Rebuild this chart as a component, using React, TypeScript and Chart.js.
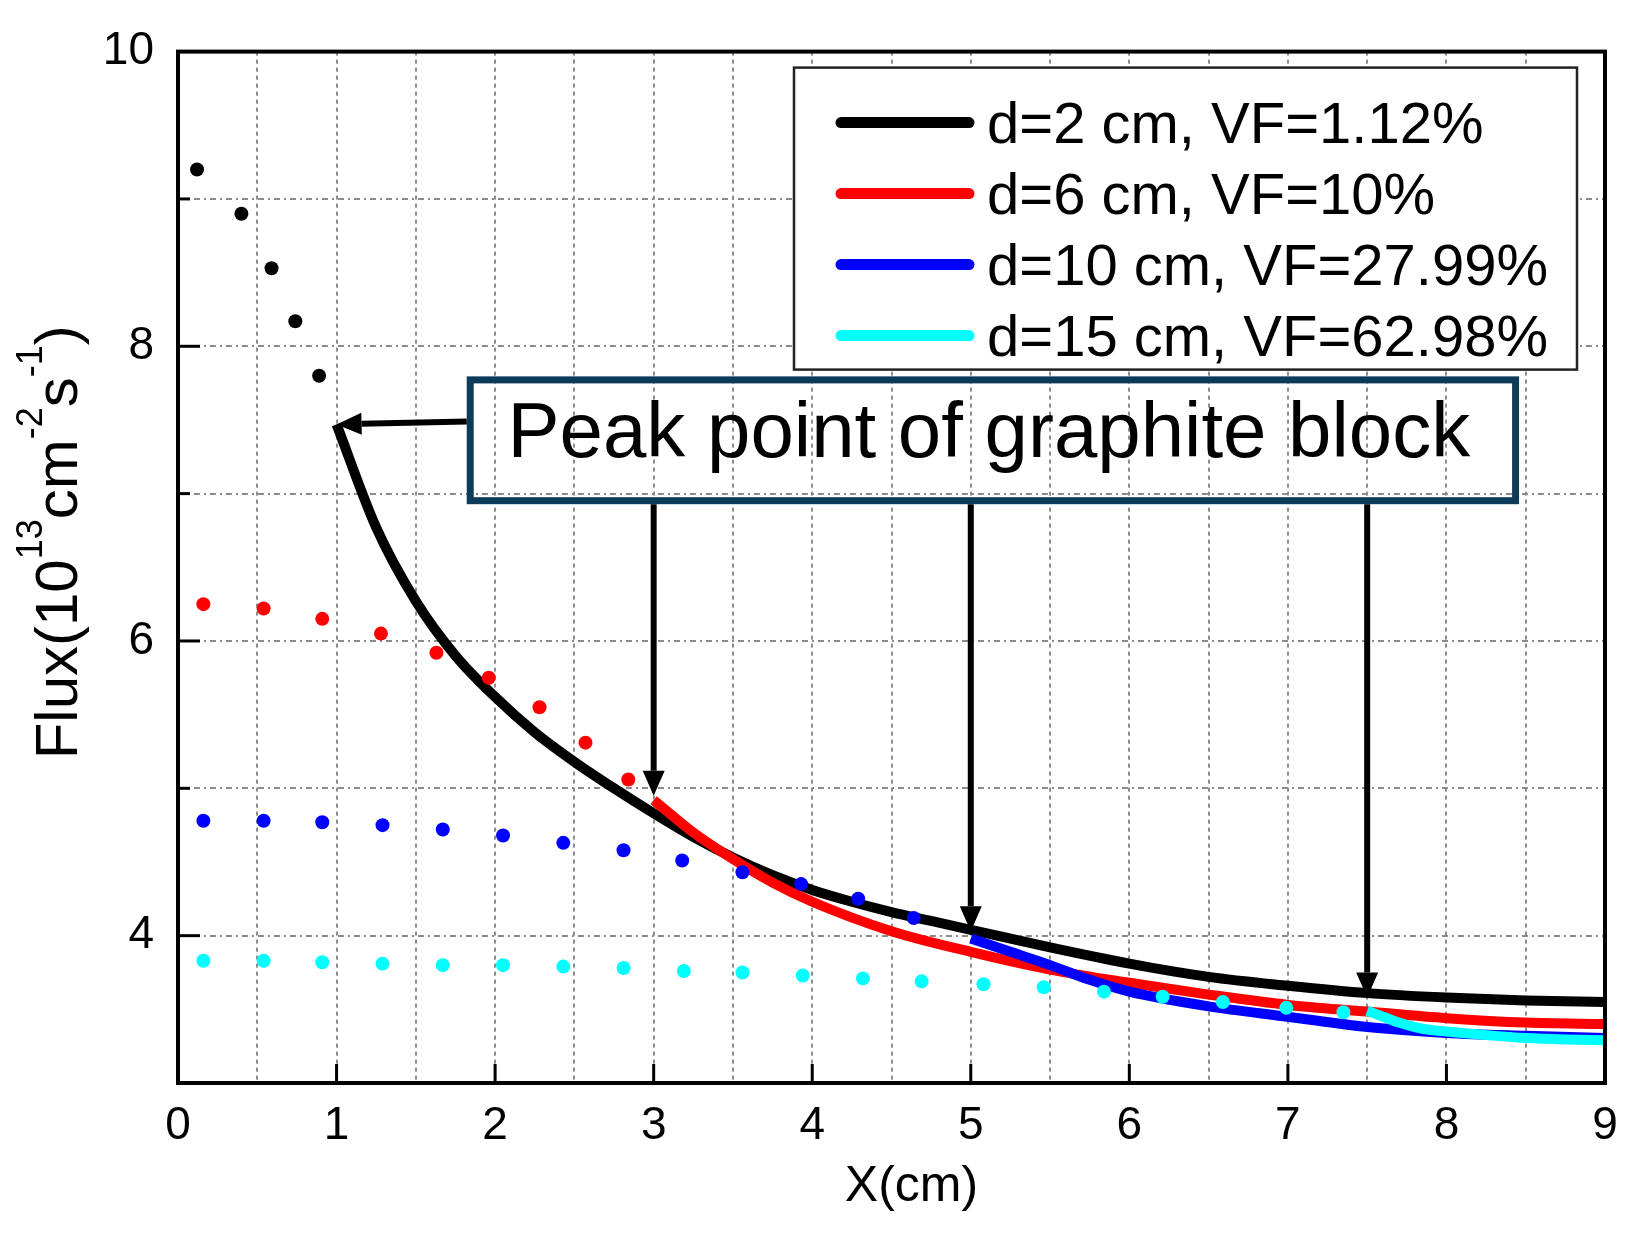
import React, { useEffect, useRef } from "react";
import { Chart, registerables } from "chart.js";

Chart.register(...registerables);

const FONT = '"Liberation Sans", Arial, Helvetica, sans-serif';

// ---- axes ----
const xMin = 0;
const xMax = 9;
const yMin = 3;
const yMax = 10;
const xTickValues = [0, 1, 2, 3, 4, 5, 6, 7, 8, 9];
const xInnerTicks = [1, 2, 3, 4, 5, 6, 7, 8];
const yTickValues = [4, 6, 8, 10];
const yMajorInner = [4, 6, 8];
const yMinorInner = [5, 7, 9];
const xGridValues = [0.5, 1, 1.5, 2, 2.5, 3, 3.5, 4, 4.5, 5, 5.5, 6, 6.5, 7, 7.5, 8, 8.5];
const yGridValues = [4, 5, 6, 7, 8, 9];

const xTitle = "X(cm)";
const yTitleParts: [string, boolean][] = [
  ["Flux(10", false],
  ["13", true],
  ["cm", false],
  ["-2", true],
  ["s", false],
  ["-1", true],
  [")", false],
];

// ---- series ----
const seriesLabels = ["d=2 cm, VF=1.12%", "d=6 cm, VF=10%", "d=10 cm, VF=27.99%", "d=15 cm, VF=62.98%"];
const seriesColors = ["#000000", "#ff0000", "#0000ff", "#00ffff"];

// d=2 cm
const blackDotX = [0.12, 0.4, 0.59, 0.74, 0.89];
const blackDotY = [9.2, 8.9, 8.53, 8.17, 7.8];
const blackLineX = [1.0, 1.25, 1.5, 1.75, 2.0, 2.25, 2.5, 2.75, 3.0, 3.25, 3.5, 3.75, 4.0, 4.25, 4.5, 4.75, 5.0, 5.5, 6.0, 6.5, 7.0, 7.5, 8.0, 8.5, 9.0];
const blackLineY = [7.47, 6.77, 6.27, 5.9, 5.62, 5.38, 5.18, 5.0, 4.83, 4.67, 4.53, 4.41, 4.31, 4.23, 4.16, 4.1, 4.04, 3.92, 3.81, 3.72, 3.66, 3.61, 3.58, 3.56, 3.55];

// d=6 cm
const redDotX = [0.16, 0.54, 0.91, 1.28, 1.63, 1.96, 2.28, 2.57, 2.84];
const redDotY = [6.25, 6.22, 6.15, 6.05, 5.92, 5.75, 5.55, 5.31, 5.06];
const redLineX = [3.0, 3.25, 3.5, 3.75, 4.0, 4.5, 5.0, 5.5, 6.0, 6.5, 7.0, 7.5, 8.0, 8.5, 9.0];
const redLineY = [4.92, 4.7, 4.52, 4.36, 4.23, 4.03, 3.89, 3.77, 3.68, 3.6, 3.53, 3.485, 3.44, 3.41, 3.4];

// d=10 cm
const blueDotX = [0.16, 0.54, 0.91, 1.29, 1.67, 2.05, 2.43, 2.81, 3.18, 3.56, 3.93, 4.29, 4.64];
const blueDotY = [4.78, 4.78, 4.77, 4.75, 4.72, 4.68, 4.63, 4.58, 4.51, 4.43, 4.35, 4.25, 4.12];
const blueLineX = [5.0, 5.25, 5.5, 5.75, 6.0, 6.5, 7.0, 7.5, 8.0, 8.5, 9.0];
const blueLineY = [3.98, 3.89, 3.8, 3.7, 3.62, 3.52, 3.45, 3.38, 3.34, 3.32, 3.305];

// d=15 cm
const cyanDotX = [0.16, 0.54, 0.91, 1.29, 1.67, 2.05, 2.43, 2.81, 3.19, 3.56, 3.94, 4.32, 4.69, 5.08, 5.46, 5.84, 6.21, 6.59, 6.99, 7.35];
const cyanDotY = [3.83, 3.83, 3.82, 3.81, 3.8, 3.8, 3.79, 3.78, 3.76, 3.75, 3.73, 3.71, 3.69, 3.67, 3.65, 3.62, 3.585, 3.55, 3.51, 3.48];
const cyanLineX = [7.5, 7.6, 7.7, 7.8, 7.9, 8.0, 8.25, 8.5, 8.75, 9.0];
const cyanLineY = [3.49, 3.45, 3.41, 3.38, 3.36, 3.35, 3.325, 3.305, 3.295, 3.29];

const dotXs = [blackDotX, redDotX, blueDotX, cyanDotX];
const dotYs = [blackDotY, redDotY, blueDotY, cyanDotY];
const lineXs = [blackLineX, redLineX, blueLineX, cyanLineX];
const lineYs = [blackLineY, redLineY, blueLineY, cyanLineY];

// ---- annotation (data coordinates) ----
const peakLabel = "Peak point of graphite block";
const peakX = [1, 3, 5, 7.5];
const peakY = [7.47, 4.95, 4.03, 3.58];
const boxXRange = [1.843, 8.436];
const boxYRange = [6.952, 7.772];

function drawArrow(ctx: CanvasRenderingContext2D, x0: number, y0: number, x1: number, y1: number) {
  const L = 25;
  const W = 11;
  const dx = x1 - x0;
  const dy = y1 - y0;
  const len = Math.hypot(dx, dy);
  const ux = dx / len;
  const uy = dy / len;
  const bx = x1 - ux * L;
  const by = y1 - uy * L;
  ctx.beginPath();
  ctx.moveTo(x0, y0);
  ctx.lineTo(bx, by);
  ctx.stroke();
  ctx.beginPath();
  ctx.moveTo(x1, y1);
  ctx.lineTo(bx - uy * W, by + ux * W);
  ctx.lineTo(bx + uy * W, by - ux * W);
  ctx.closePath();
  ctx.fill();
}

const decorPlugin = {
  id: "decor",
  beforeDatasetsDraw(chart: any) {
    const { ctx, chartArea: a, scales } = chart;
    const x = scales.x;
    const y = scales.y;
    ctx.save();
    ctx.strokeStyle = "#8c8c8c";
    ctx.lineWidth = 2;
    ctx.setLineDash([4, 4]);
    xGridValues.forEach((v) => {
      const px = Math.round(x.getPixelForValue(v));
      ctx.beginPath();
      ctx.moveTo(px, a.top);
      ctx.lineTo(px, a.bottom);
      ctx.stroke();
    });
    ctx.setLineDash([6, 4, 2, 4]);
    yGridValues.forEach((v) => {
      const py = Math.round(y.getPixelForValue(v));
      ctx.beginPath();
      ctx.moveTo(a.left, py);
      ctx.lineTo(a.right, py);
      ctx.stroke();
    });
    ctx.restore();
  },
  afterDatasetsDraw(chart: any) {
    const { ctx, chartArea: a, scales } = chart;
    const x = scales.x;
    const y = scales.y;
    ctx.save();

    // annotation box
    const bl = x.getPixelForValue(boxXRange[0]);
    const br = x.getPixelForValue(boxXRange[1]);
    const bt = y.getPixelForValue(boxYRange[1]);
    const bb = y.getPixelForValue(boxYRange[0]);
    ctx.strokeStyle = "#0c3c58";
    ctx.lineWidth = 7;
    ctx.lineJoin = "miter";
    ctx.strokeRect(bl, bt, br - bl, bb - bt);
    ctx.fillStyle = "#000";
    ctx.font = `78px ${FONT}`;
    ctx.textAlign = "center";
    ctx.textBaseline = "alphabetic";
    ctx.fillText(peakLabel, (bl + br) / 2 - 4, bt + 77);

    // arrows
    ctx.strokeStyle = "#000";
    ctx.fillStyle = "#000";
    ctx.lineWidth = 6;
    ctx.lineCap = "butt";
    peakX.forEach((px, i) => {
      const tx = x.getPixelForValue(px);
      const ty = y.getPixelForValue(peakY[i]);
      if (i === 0) {
        drawArrow(ctx, bl - 3.5, ty - 3, tx, ty);
      } else {
        drawArrow(ctx, tx, bb + 3.5, tx, ty);
      }
    });

    // legend
    const lw = 783;
    const lh = 302;
    const lx = a.right - 811;
    const ly = a.top + 16;
    ctx.fillStyle = "#fff";
    ctx.fillRect(lx, ly, lw, lh);
    ctx.strokeStyle = "#222";
    ctx.lineWidth = 2.5;
    ctx.strokeRect(lx, ly, lw, lh);
    ctx.font = `58px ${FONT}`;
    ctx.textAlign = "left";
    ctx.textBaseline = "alphabetic";
    seriesLabels.forEach((lab, i) => {
      const ry = ly + 55 + i * 71;
      ctx.strokeStyle = seriesColors[i];
      ctx.lineWidth = 11;
      ctx.lineCap = "round";
      ctx.beginPath();
      ctx.moveTo(lx + 47, ry);
      ctx.lineTo(lx + 175, ry);
      ctx.stroke();
      ctx.fillStyle = "#000";
      ctx.fillText(lab, lx + 193, ry + 20);
    });

    // frame
    ctx.lineCap = "butt";
    ctx.strokeStyle = "#000";
    ctx.lineWidth = 4;
    ctx.strokeRect(a.left, a.top, a.right - a.left, a.bottom - a.top);

    // inward ticks
    ctx.lineWidth = 3;
    xInnerTicks.forEach((v) => {
      const px = x.getPixelForValue(v);
      ctx.beginPath();
      ctx.moveTo(px, a.bottom);
      ctx.lineTo(px, a.bottom - 19);
      ctx.stroke();
    });
    yMajorInner.forEach((v) => {
      const py = y.getPixelForValue(v);
      ctx.beginPath();
      ctx.moveTo(a.left, py);
      ctx.lineTo(a.left + 22, py);
      ctx.stroke();
    });
    yMinorInner.forEach((v) => {
      const py = y.getPixelForValue(v);
      ctx.beginPath();
      ctx.moveTo(a.left, py);
      ctx.lineTo(a.left + 12, py);
      ctx.stroke();
    });
    ctx.restore();
  },
  afterDraw(chart: any) {
    const { ctx, chartArea: a } = chart;
    ctx.save();
    ctx.fillStyle = "#000";
    // x title
    ctx.font = `50px ${FONT}`;
    ctx.textAlign = "center";
    ctx.textBaseline = "alphabetic";
    ctx.fillText(xTitle, (a.left + a.right) / 2 + 20, a.bottom + 118);

    // y title with superscripts
    const mainSize = 60;
    const supSize = 36;
    let total = 0;
    const widths = yTitleParts.map(([t, sup]) => {
      ctx.font = `${sup ? supSize : mainSize}px ${FONT}`;
      const w = ctx.measureText(t).width;
      total += w;
      return w;
    });
    ctx.translate(77, (a.top + a.bottom) / 2 - 25);
    ctx.rotate(-Math.PI / 2);
    ctx.textAlign = "left";
    let cx = -total / 2;
    yTitleParts.forEach(([t, sup], i) => {
      ctx.font = `${sup ? supSize : mainSize}px ${FONT}`;
      ctx.fillText(t, cx, sup ? -35 : 0);
      cx += widths[i];
    });
    ctx.restore();
  },
};

export default function App() {
  const ref = useRef<HTMLCanvasElement | null>(null);

  useEffect(() => {
    if (!ref.current) return;
    const datasets: any[] = [];
    seriesColors.forEach((color, i) => {
      datasets.push({
        label: seriesLabels[i],
        data: lineXs[i].map((v, j) => ({ x: v, y: lineYs[i][j] })),
        showLine: true,
        borderColor: color,
        backgroundColor: color,
        borderWidth: 10,
        pointRadius: 0,
        cubicInterpolationMode: "monotone",
        borderCapStyle: "butt",
        order: 10 - i * 2,
      });
      datasets.push({
        label: seriesLabels[i] + " (dots)",
        data: dotXs[i].map((v, j) => ({ x: v, y: dotYs[i][j] })),
        showLine: false,
        pointRadius: 7,
        pointBorderWidth: 0,
        pointBackgroundColor: color,
        backgroundColor: color,
        borderColor: color,
        order: 9 - i * 2,
      });
    });

    const chart = new Chart(ref.current, {
      type: "scatter",
      data: { datasets },
      options: {
        responsive: false,
        animation: false,
        devicePixelRatio: 1,
        layout: { padding: { left: 0, top: 44, right: 34, bottom: 0 } },
        plugins: { legend: { display: false }, tooltip: { enabled: false } },
        events: [],
        scales: {
          x: {
            type: "linear",
            min: xMin,
            max: xMax,
            grid: { display: false, drawTicks: false },
            border: { display: false },
            afterFit: (s: any) => {
              s.height = 152;
            },
            afterBuildTicks: (s: any) => {
              s.ticks = xTickValues.map((v) => ({ value: v }));
            },
            ticks: {
              padding: 16,
              color: "#000",
              maxRotation: 0,
              autoSkip: false,
              font: { family: FONT, size: 46 },
            },
          },
          y: {
            type: "linear",
            min: yMin,
            max: yMax,
            grid: { display: false, drawTicks: false },
            border: { display: false },
            afterFit: (s: any) => {
              s.width = 178;
            },
            afterBuildTicks: (s: any) => {
              s.ticks = yTickValues.map((v) => ({ value: v }));
            },
            ticks: {
              padding: 24,
              color: "#000",
              autoSkip: false,
              font: { family: FONT, size: 46 },
            },
          },
        },
      } as any,
      plugins: [decorPlugin as any],
    });
    return () => chart.destroy();
  }, []);

  return (
    <div style={{ position: "absolute", left: 0, top: 0, width: 1639, height: 1235, background: "#fff" }}>
      <canvas ref={ref} width={1639} height={1235} style={{ width: 1639, height: 1235, display: "block" }} />
    </div>
  );
}
